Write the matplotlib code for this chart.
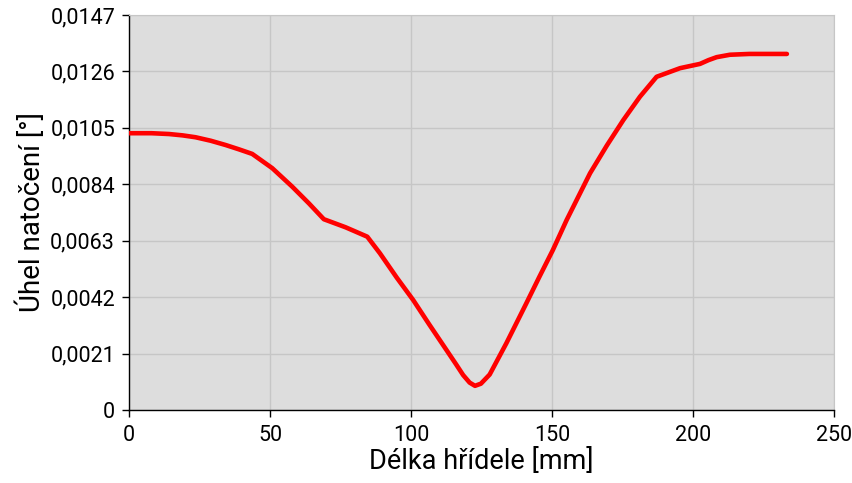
import matplotlib
matplotlib.use("Agg")
import matplotlib.pyplot as plt
from matplotlib.ticker import FuncFormatter

x_mm = [0, 8, 14.2, 19, 23.6, 29, 34.3, 39, 43.7, 50.8, 57.9, 63.8, 69.1, 76.8,
        84.5, 89.0, 95, 100.8, 106.5, 112.6, 116, 118.5, 120.8, 122.7, 124.8,
        127.9, 133.8, 140.9, 145.5, 150.3, 155.2, 163.5, 169.5, 175.3, 181.2,
        187.1, 195.4, 202.5, 205.5, 208.4, 213.1, 220, 233.3]
uhel = [0.01030, 0.01030, 0.01027, 0.01022, 0.01015, 0.01002, 0.00986, 0.00970,
        0.00953, 0.00900, 0.00831, 0.00769, 0.00710, 0.00680, 0.00645, 0.00583,
        0.00492, 0.00409, 0.00318, 0.00223, 0.00170, 0.00130, 0.00102, 0.00090,
        0.00098, 0.00132, 0.00248, 0.00397, 0.00495, 0.00595, 0.00707, 0.00881,
        0.00985, 0.01079, 0.01166, 0.01240, 0.01272, 0.01288, 0.01302, 0.01313,
        0.01322, 0.01325, 0.01325]
y_ticks = [0, 0.0021, 0.0042, 0.0063, 0.0084, 0.0105, 0.0126, 0.0147]
x_ticks = [0, 50, 100, 150, 200, 250]

plt.rcParams['font.family'] = ['Roboto', 'DejaVu Sans']
fig = plt.figure(figsize=(8.53, 4.83), dpi=100)
ax = fig.add_axes([0.1512, 0.1511, 0.9777 - 0.1512, 0.969 - 0.1511])
ax.set_facecolor('#DDDDDD')
ax.plot(x_mm, uhel, color='#FF0000', lw=3.3, solid_capstyle='round', solid_joinstyle='round', zorder=3)
ax.set_xlim(0, 250)
ax.set_ylim(0, 0.0147)
ax.set_xticks(x_ticks)
ax.set_yticks(y_ticks)
ax.yaxis.set_major_formatter(FuncFormatter(lambda v, p: '0' if abs(v) < 1e-12 else f'{v:.4f}'.replace('.', ',')))
ax.grid(True, color='#C6C6C6', lw=1.0)
ax.set_axisbelow(True)
for s in ['top', 'right']:
    ax.spines[s].set_color('#C6C6C6')
for s in ['left', 'bottom']:
    ax.spines[s].set_color('black')
    ax.spines[s].set_linewidth(1.0)
ax.tick_params(axis='both', direction='out', length=5, width=1, colors='black', labelsize=15.5)
ax.tick_params(axis='x', pad=6)
ax.tick_params(axis='y', pad=5)
ax.set_xlabel('Délka hřídele [mm]', fontsize=19.5, labelpad=1)
ax.set_ylabel('Úhel natočení [°]', fontsize=20, labelpad=3)
fig.savefig('out.png', dpi=100)
